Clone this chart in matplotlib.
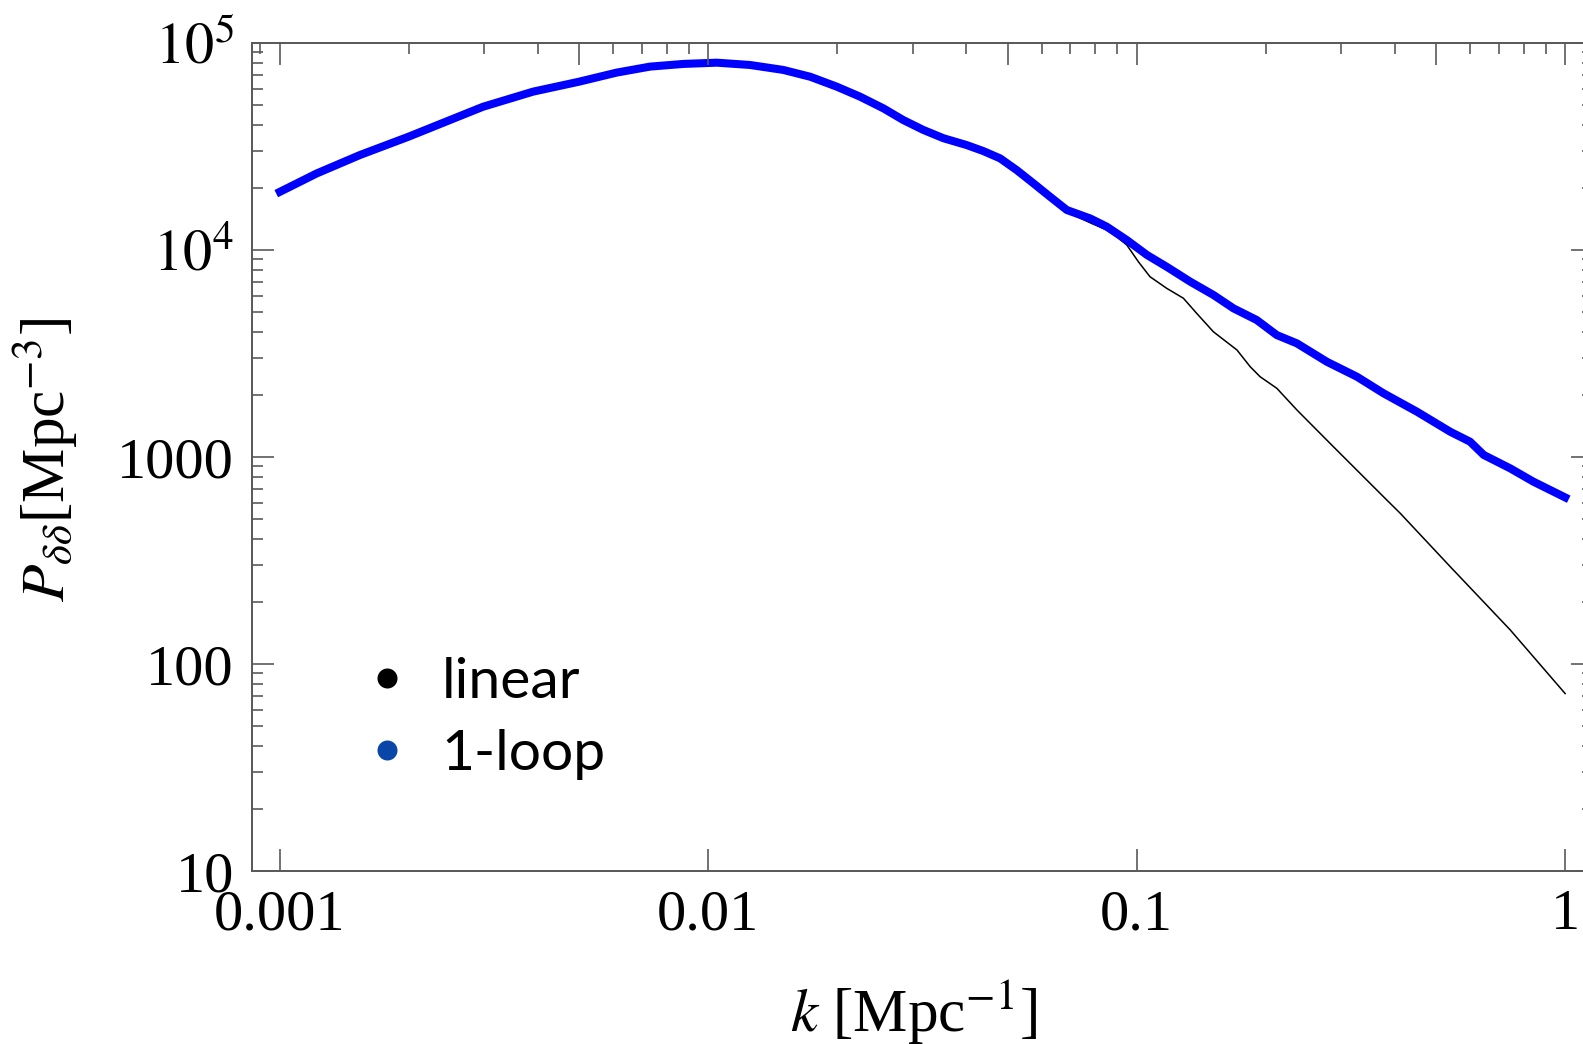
import numpy as np
import matplotlib
matplotlib.use("Agg")
from matplotlib import pyplot as plt
from matplotlib.lines import Line2D
from matplotlib.ticker import NullLocator, LogLocator, NullFormatter

# values: k in 1/Mpc, P in Mpc^3
k_loop = [0.001, 0.001219, 0.001538, 0.001995, 0.002495, 0.002979, 0.003899,
          0.004989, 0.006109, 0.007311, 0.00875, 0.010471, 0.012503, 0.014962,
          0.017298, 0.019953, 0.022594, 0.025645, 0.02851, 0.031769, 0.0354,
          0.040087, 0.043853, 0.047973, 0.052481, 0.057412, 0.062806, 0.068707,
          0.0778, 0.08511, 0.09484, 0.10568, 0.11749, 0.13335, 0.15101,
          0.16827, 0.19055, 0.21232, 0.23659, 0.27797, 0.32659, 0.3767,
          0.45082, 0.53951, 0.59979, 0.64565, 0.74473, 0.84333, 1.0]
p_loop = [19100, 23440, 28770, 35240, 42460, 49200, 58210,
          65010, 71940, 76910, 79250, 80350, 78340, 74130,
          68710, 61520, 55080, 48310, 42460, 38020, 34670,
          32140, 30060, 27730, 24320, 20990, 18070, 15600,
          14220, 12970, 11170, 9462, 8299, 7031, 6067,
          5224, 4592, 3882, 3540, 2884, 2443, 2032,
          1656, 1324, 1186, 1023, 881, 760, 638]

k_lin = [0.001, 0.001219, 0.001538, 0.001995, 0.002495, 0.002979, 0.003899,
         0.004989, 0.006109, 0.007311, 0.00875, 0.010471, 0.012503, 0.014962,
         0.017298, 0.019953, 0.022594, 0.025645, 0.02851, 0.031769, 0.0354,
         0.040087, 0.043853, 0.047973, 0.052481, 0.057412, 0.062806, 0.06982,
         0.0778, 0.08511, 0.08974, 0.09484, 0.10093, 0.1074, 0.11749,
         0.12853, 0.13804, 0.15101, 0.1714, 0.18408, 0.19409, 0.21232,
         0.23659, 0.28774, 0.3767, 0.4121, 0.53951, 0.74473, 1.0]
p_lin = [19100, 23440, 28770, 35240, 42460, 49200, 58210,
         65010, 71940, 76910, 79250, 80350, 78340, 74130,
         68710, 61520, 55080, 48310, 42460, 38020, 34670,
         32140, 30060, 27730, 24320, 20990, 18070, 15030,
         13550, 12500, 11590, 10570, 8770, 7430, 6531,
         5848, 4943, 4027, 3289, 2729, 2443, 2148,
         1687, 1122, 643, 535, 295, 146, 72]

x_ticks = [0.001, 0.01, 0.1, 1]
x_labels = ["0.001", "0.01", "0.1", "1"]
y_ticks = [10, 100, 1000, 1e4, 1e5]
y_labels = ["10", "100", "1000", r"$10^4$", r"$10^5$"]
legend_names = ["linear", "1-loop"]
legend_colors = ["black", "#0a45a8"]

plt.rcParams["font.family"] = ["Liberation Serif", "DejaVu Serif"]
plt.rcParams["mathtext.fontset"] = "stix"

frame = "#5a5a5a"

fig = plt.figure(figsize=(15.83, 10.44), dpi=100)
ax = fig.add_axes([0.1592, 0.1657, 0.8471, 0.7931])

ax.plot(k_lin, p_lin, color="black", lw=1.1)
ax.plot(k_loop, p_loop, color="#0000ff", lw=5.8)

ax.set_xscale("log")
ax.set_yscale("log")
ax.set_xlim(10 ** -3.065, 10 ** 0.065)
ax.set_ylim(10, 1e5)

ax.set_xticks(x_ticks, labels=x_labels)
ax.set_yticks(y_ticks, labels=y_labels)
ax.xaxis.set_minor_locator(NullLocator())
ax.yaxis.set_minor_locator(LogLocator(base=10, subs=np.arange(2, 10)))
ax.yaxis.set_minor_formatter(NullFormatter())

for s in ax.spines.values():
    s.set_color(frame)
    s.set_linewidth(1.3)

ax.tick_params(which="both", direction="in", color=frame, width=1.2, labelsize=42)
ax.tick_params(which="major", length=16)
ax.tick_params(which="minor", length=8)
ax.tick_params(axis="y", which="both", left=True, right=True, pad=13)
ax.tick_params(axis="x", pad=13)

# top edge: long ticks at 1 and 5 per decade, short ones between
top = ax.twiny()
top.set_xscale("log")
top.set_xlim(ax.get_xlim())
top.xaxis.set_major_locator(LogLocator(base=10, subs=(1.0, 5.0)))
top.xaxis.set_minor_locator(LogLocator(base=10, subs=(2, 3, 4, 6, 7, 8, 9)))
top.xaxis.set_major_formatter(NullFormatter())
top.xaxis.set_minor_formatter(NullFormatter())
top.tick_params(which="both", direction="in", color=frame, width=1.2)
top.tick_params(which="major", length=16)
top.tick_params(which="minor", length=8)
for s in top.spines.values():
    s.set_color(frame)
    s.set_linewidth(1.3)

ax.set_xlabel(r"$k$ [Mpc$^{-1}$]", fontsize=44)
ax.xaxis.set_label_coords(0.493, -0.13)
ax.set_ylabel(r"$P_{\delta\delta}$[Mpc$^{-3}$]", fontsize=44)
ax.yaxis.set_label_coords(-0.128, 0.496)

handles = [Line2D([], [], ls="none", marker="o", markersize=14.4,
                  color=c, markeredgewidth=0) for c in legend_colors]
ax.legend(handles, legend_names, loc="center left",
          bbox_to_anchor=(0.2268, 0.3118), bbox_transform=fig.transFigure,
          frameon=False, borderpad=0, borderaxespad=0,
          handlelength=1.0, handletextpad=0.45, labelspacing=0.37,
          prop={"family": "Lato", "size": 41})

fig.savefig("out.png", dpi=100)
